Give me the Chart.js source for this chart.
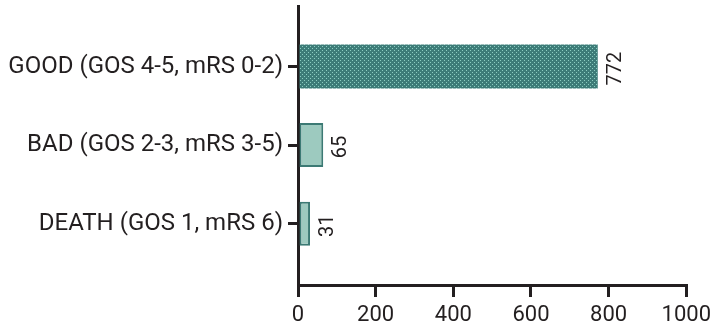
<!DOCTYPE html>
<html>
<head>
<meta charset="utf-8">
<script src="https://cdn.jsdelivr.net/npm/chart.js@4.4.1/dist/chart.umd.min.js"></script>
<style>
  html, body { margin: 0; padding: 0; background: #fff; }
  #wrap { width: 716px; height: 331px; }
</style>
</head>
<body>
<div id="wrap"><canvas id="c" width="716" height="331"></canvas></div>
<script>
// Data
const categories = ["GOOD (GOS 4-5, mRS 0-2)", "BAD (GOS 2-3, mRS 3-5)", "DEATH (GOS 1, mRS 6)"];
const counts = [772, 65, 31];
const xTicks = [0, 200, 400, 600, 800, 1000];

const ink = "#231f20";

// dotted fill for the first bar
function dotPattern() {
  const p = document.createElement("canvas");
  p.width = 4;
  p.height = 4;
  const g = p.getContext("2d");
  g.fillStyle = "#3d7c78";
  g.fillRect(0, 0, 4, 4);
  g.fillStyle = "#8ccdc1";
  g.fillRect(0, 0, 1, 1);
  g.fillRect(2, 2, 1, 1);
  return g.createPattern(p, "repeat");
}

const ctx = document.getElementById("c").getContext("2d");
const pattern = dotPattern();

// rotated value labels next to each bar
const valueLabels = {
  id: "valueLabels",
  afterDatasetsDraw(chart) {
    const c = chart.ctx;
    const meta = chart.getDatasetMeta(0);
    c.save();
    c.fillStyle = ink;
    c.font = "20px Roboto";
    c.textAlign = "center";
    c.textBaseline = "middle";
    meta.data.forEach((bar, i) => {
      c.save();
      c.translate(bar.x + 18, bar.y + 2);
      c.rotate(-Math.PI / 2);
      c.fillText(String(counts[i]), 0, 0);
      c.restore();
    });
    c.restore();
  },
};

new Chart(ctx, {
  type: "bar",
  data: {
    datasets: [
      {
        data: counts.map((v, i) => ({ x: v, y: i })),
        backgroundColor: [pattern, "#9dcabf", "#9dcabf"],
        borderColor: ["#3d7c78", "#3c7a74", "#3c7a74"],
        borderWidth: [0, 2, 2],
        borderSkipped: false,
        categoryPercentage: 1,
        barPercentage: 0.56,
      },
    ],
  },
  options: {
    indexAxis: "y",
    responsive: false,
    animation: false,
    layout: { padding: { top: 6, left: 5, right: 25, bottom: 0 } },
    plugins: { legend: { display: false }, tooltip: { enabled: false } },
    scales: {
      y: {
        type: "linear",
        reverse: true,
        offset: false,
        min: -0.77,
        max: 2.78,
        afterBuildTicks: (s) => {
          s.ticks = categories.map((_, i) => ({ value: i }));
        },
        afterFit: (s) => {
          s.width = 293;
          s.paddingTop = 0;
          s.paddingBottom = 0;
        },
        ticks: {
          callback: (v) => categories[v],
          color: ink,
          font: { family: "Roboto", size: 24 },
          padding: 5,
          autoSkip: false,
        },
        grid: {
          offset: false,
          drawOnChartArea: false,
          tickLength: 10,
          lineWidth: 3,
          color: ink,
        },
        border: { display: true, width: 3, color: ink },
      },
      x: {
        type: "linear",
        min: 0,
        max: 1000,
        afterBuildTicks: (s) => {
          s.ticks = xTicks.map((v) => ({ value: v }));
        },
        afterFit: (s) => {
          s.height = 46;
        },
        ticks: {
          callback: (v) => String(v),
          color: ink,
          font: { family: "Roboto", size: 22 },
          padding: 5,
          maxRotation: 0,
        },
        grid: {
          drawOnChartArea: false,
          tickLength: 12,
          lineWidth: 3,
          color: ink,
        },
        border: { display: true, width: 3, color: ink },
      },
    },
  },
  plugins: [valueLabels],
});
</script>
</body>
</html>
